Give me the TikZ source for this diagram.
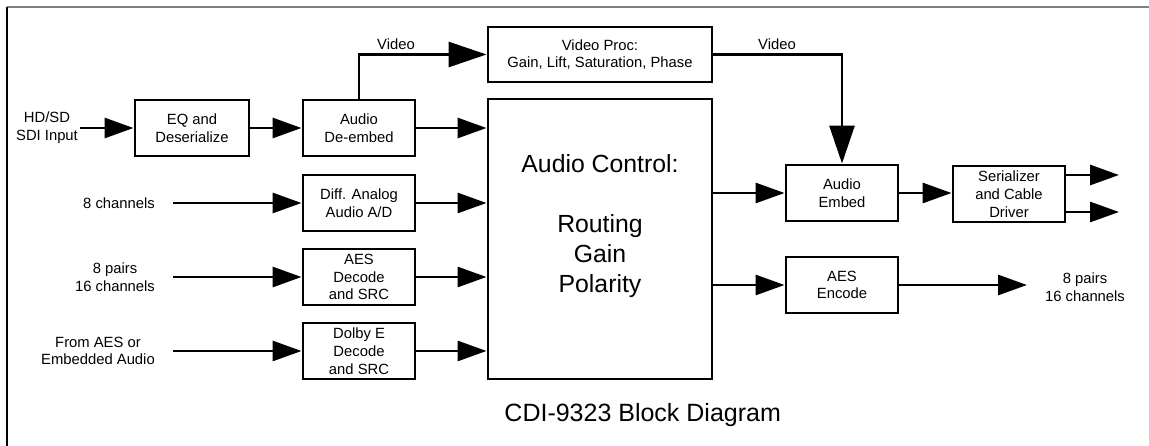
\documentclass[tikz,border=0pt]{standalone}
\usepackage{fontspec}
\setmainfont{Liberation Sans}
\usetikzlibrary{arrows.meta}

\begin{document}
\begin{tikzpicture}[x=1pt,y=-1pt,line width=2.9pt,
	every node/.style={font=\fontsize{14.8}{17.8}\selectfont,align=center,inner sep=1pt},
	blk/.style={draw,minimum width=112pt,minimum height=56pt},
	arr/.style={-{Triangle[length=29pt,width=20pt]}},
	bigarr/.style={-{Triangle[length=38pt,width=25pt]}}]
	\useasboundingbox (0,0) rectangle (1149,446);
	\draw[gray,line width=2pt] (7,7) -- (1149,7);
	\draw[line width=2pt] (7,7) -- (7,446);
	\node[blk,minimum width=114pt] (eq) at (192,128) {EQ and\\Deserialize};
	\node[blk] (dembed) at (359,128) {Audio\\De-embed};
	\node[blk] (ad) at (359,203) {Diff. Analog\\Audio A/D};
	\node[blk] (aesdec) at (359,277) {AES\\Decode\\and SRC};
	\node[blk] (dolby) at (359,351) {Dolby E\\Decode\\and SRC};
	\node[blk,minimum width=224pt,minimum height=55pt] (vproc) at (600,54.5) {Video Proc:\\Gain, Lift, Saturation, Phase};
	\node[blk,minimum width=224pt,minimum height=280pt] (ctrl) at (600,239) {};
	\node[font=\fontsize{24.8}{29.8}\selectfont] (ctrltxt) at (600,226) {Audio Control:\\[29.8pt]Routing\\Gain\\Polarity};
	\node[blk] (aembed) at (842,193) {Audio\\Embed};
	\node[blk] (ser) at (1009,194) {Serializer\\and Cable\\Driver};
	\node[blk] (aesenc) at (842,285) {AES\\Encode};
	\node (sdi) at (47,128) {HD/SD\\SDI Input};
	\node (ch8) at (119,203) {8 channels};
	\node (pairs) at (115,277) {8 pairs\\16 channels};
	\node (from) at (98,351) {From AES or\\Embedded Audio};
	\node (vid1) at (396,44) {Video};
	\node (vid2) at (777,44) {Video};
	\node (outtxt) at (1085,287) {8 pairs\\16 channels};
	\node[font=\fontsize{25}{30}\selectfont,anchor=west] (title) at (502,415) {CDI-9323 Block Diagram};
	\coordinate (in1) at (173,203);
	\coordinate (in2) at (173,277);
	\coordinate (in3) at (173,351);
	\coordinate (o1) at (1119,175);
	\coordinate (o2) at (1119,212);
	\coordinate (aesout) at (1027,285);
	\draw[arr] (sdi.east) -- (eq.west);
	\draw[arr] (eq) -- (dembed);
	\draw[arr] (in1) -- (ad.west);
	\draw[arr] (in2) -- (aesdec.west);
	\draw[arr] (in3) -- (dolby.west);
	\foreach \n in {dembed,ad,aesdec,dolby} \draw[arr] (\n.east) -- (\n.east -| ctrl.west);
	\draw[bigarr] (dembed.north) |- (vproc.west);
	\draw[bigarr] (vproc.east) -| (aembed.north);
	\draw[arr] (aembed.west -| ctrl.east) -- (aembed.west);
	\draw[arr] (aesenc.west -| ctrl.east) -- (aesenc.west);
	\draw[arr] (aembed.east) -- (aembed.east -| ser.west);
	\draw[arr] (ser.east |- o1) -- (o1);
	\draw[arr] (ser.east |- o2) -- (o2);
	\draw[arr] (aesenc) -- (aesout);
\end{tikzpicture}
\end{document}
